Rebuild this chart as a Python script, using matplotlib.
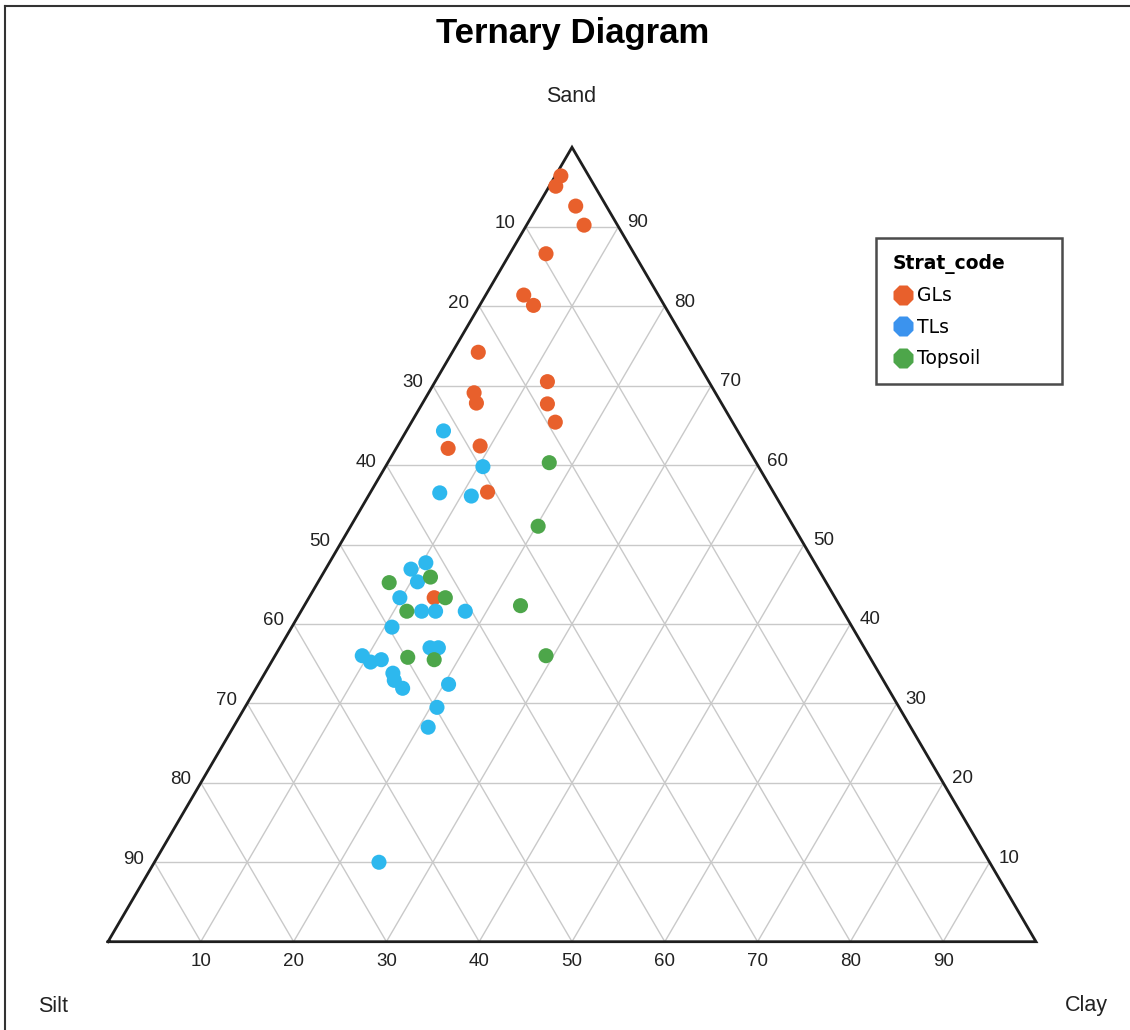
import matplotlib
matplotlib.use("Agg")
import matplotlib.pyplot as plt
from matplotlib.lines import Line2D
import numpy as np

# soil texture samples, percent (sand, silt, clay)
gls_sand = [96.4, 95.1, 92.6, 90.2, 86.6, 81.4, 80.1, 74.2, 70.5, 69.1, 67.8, 67.7, 65.4, 62.1, 62.4, 56.6, 43.3]
gls_clay = [0.6, 0.7, 4.1, 6.2, 3.9, 4.1, 5.8, 2.8, 12.1, 4.9, 5.8, 13.5, 15.5, 5.6, 8.9, 12.6, 13.5]
gls_silt = [3.0, 4.2, 3.3, 3.6, 9.5, 14.5, 14.1, 23.0, 17.4, 26.0, 26.4, 18.8, 19.1, 32.3, 28.7, 30.8, 43.2]

tls_sand = [64.3, 59.8, 56.5, 56.1, 47.7, 46.9, 45.3, 43.3, 41.6, 41.6, 41.6, 39.6, 37.0, 37.0,
            36.0, 35.2, 35.5, 33.8, 32.9, 31.9, 32.4, 29.5, 27.0, 10.0]
tls_clay = [4.0, 10.5, 7.5, 11.1, 10.4, 9.2, 10.7, 9.8, 13.0, 14.5, 17.7, 10.8, 16.2, 17.1,
            9.4, 10.7, 11.7, 13.8, 14.4, 15.8, 20.5, 20.7, 21.0, 24.2]
tls_silt = [31.7, 29.7, 36.0, 32.8, 41.9, 43.9, 44.0, 46.9, 45.4, 43.9, 40.7, 49.6, 46.8, 45.9,
            54.6, 54.1, 52.8, 52.4, 52.7, 52.3, 47.1, 49.8, 52.0, 65.8]

top_sand = [60.3, 52.3, 45.9, 45.2, 43.3, 42.3, 41.6, 35.8, 35.5, 36.0]
top_clay = [17.4, 20.2, 11.8, 7.7, 14.7, 23.3, 11.4, 14.4, 17.4, 29.2]
top_silt = [22.3, 27.5, 42.3, 47.1, 42.0, 34.4, 47.0, 49.8, 47.1, 34.8]

groups = ["GLs", "TLs", "Topsoil"]
point_colors = ["#E8602C", "#2DB8EE", "#4DA64A"]
legend_colors = ["#E8602C", "#3B93EE", "#4DA64A"]
tick_values = [10, 20, 30, 40, 50, 60, 70, 80, 90]

W, H = 1130, 1030
plt.rcParams['font.family'] = ['Liberation Sans', 'DejaVu Sans']
fig = plt.figure(figsize=(W / 100, H / 100), dpi=100)

# triangle: bottom-left (108, 941.7), bottom-right (1036, 941.7), apex at top (pixels)
x0, x1, yb, yt = 108, 1036, 941.7, 147.3
ax = fig.add_axes([x0 / W, (H - yb) / H, (x1 - x0) / W, (yb - yt) / H])
ax.set_xlim(0, 1)
ax.set_ylim(0, 1)
ax.axis("off")


def to_xy(sand, clay):
    s = np.asarray(sand) / 100.0
    c = np.asarray(clay) / 100.0
    return c + s / 2, s


# grid
grid_kw = dict(color="#c9c9c9", lw=1.0, zorder=1, clip_on=False)
for v in tick_values:
    f = v / 100.0
    ax.plot([f / 2, 1 - f / 2], [f, f], **grid_kw)                 # constant sand
    ax.plot([f, f + (1 - f) / 2], [0, 1 - f], **grid_kw)           # constant clay
    ax.plot([1 - f, (1 - f) / 2], [0, 1 - f], **grid_kw)           # constant silt

# outline
ax.plot([0, 1, 0.5, 0], [0, 0, 1, 0], color="#1e1e1e", lw=2.0, zorder=2,
        clip_on=False, solid_joinstyle="miter")

# tick labels
for v in tick_values:
    f = v / 100.0
    # left edge: silt
    ax.annotate(str(v), ((1 - f) / 2, 1 - f), xytext=(-10, 3), textcoords="offset pixels",
                ha="right", va="center", fontsize=13.5, color="#222222")
    # right edge: sand
    ax.annotate(str(v), (1 - f / 2, f), xytext=(9, 4), textcoords="offset pixels",
                ha="left", va="center", fontsize=13.5, color="#222222")
    # bottom edge: clay
    ax.annotate(str(v), (f, 0), xytext=(0, -20), textcoords="offset pixels",
                ha="center", va="center", fontsize=13.5, color="#222222")

# samples
sets = [(gls_sand, gls_clay), (tls_sand, tls_clay), (top_sand, top_clay)]
for (sand, clay), col in zip(sets, point_colors):
    px, py = to_xy(sand, clay)
    ax.scatter(px, py, s=118, color=col, edgecolors="none", zorder=3, clip_on=False)

# text
fig.text(573 / W, 1 - 33 / H, "Ternary Diagram", ha="center", va="center",
         fontsize=25, fontweight="bold")
fig.text(571 / W, 1 - 96 / H, "Sand", ha="center", va="center", fontsize=15.5, color="#222222")
fig.text(53 / W, 1 - 1006 / H, "Silt", ha="center", va="center", fontsize=15.5, color="#222222")
fig.text(1086 / W, 1 - 1006 / H, "Clay", ha="center", va="center", fontsize=15.5, color="#222222")

# legend
handles = [Line2D([], [], ls="none", marker="8", ms=15, color=c, mec="none") for c in legend_colors]
leg = fig.legend(handles, groups, title="Strat_code", loc="upper left",
                 bbox_to_anchor=(876 / W, (H - 385) / H, 186 / W, 147 / H), mode="expand",
                 frameon=True, fancybox=False,
                 prop={"family": "DejaVu Sans", "size": 13.5},
                 title_fontproperties={"family": "DejaVu Sans", "size": 13.5, "weight": "bold"},
                 alignment="left", handlelength=1.2, handletextpad=0.15, labelspacing=0.66,
                 borderpad=0.86, borderaxespad=0)
leg.get_frame().set_edgecolor("#1e1e1e")
leg.get_frame().set_linewidth(1.8)

# window frame
fig.add_artist(Line2D([5 / W, 5 / W], [0, 1 - 6 / H], color="#333333", lw=1.5))
fig.add_artist(Line2D([5 / W, 1], [1 - 6 / H, 1 - 6 / H], color="#333333", lw=1.5))

fig.savefig("out.png", dpi=100, facecolor="white")
